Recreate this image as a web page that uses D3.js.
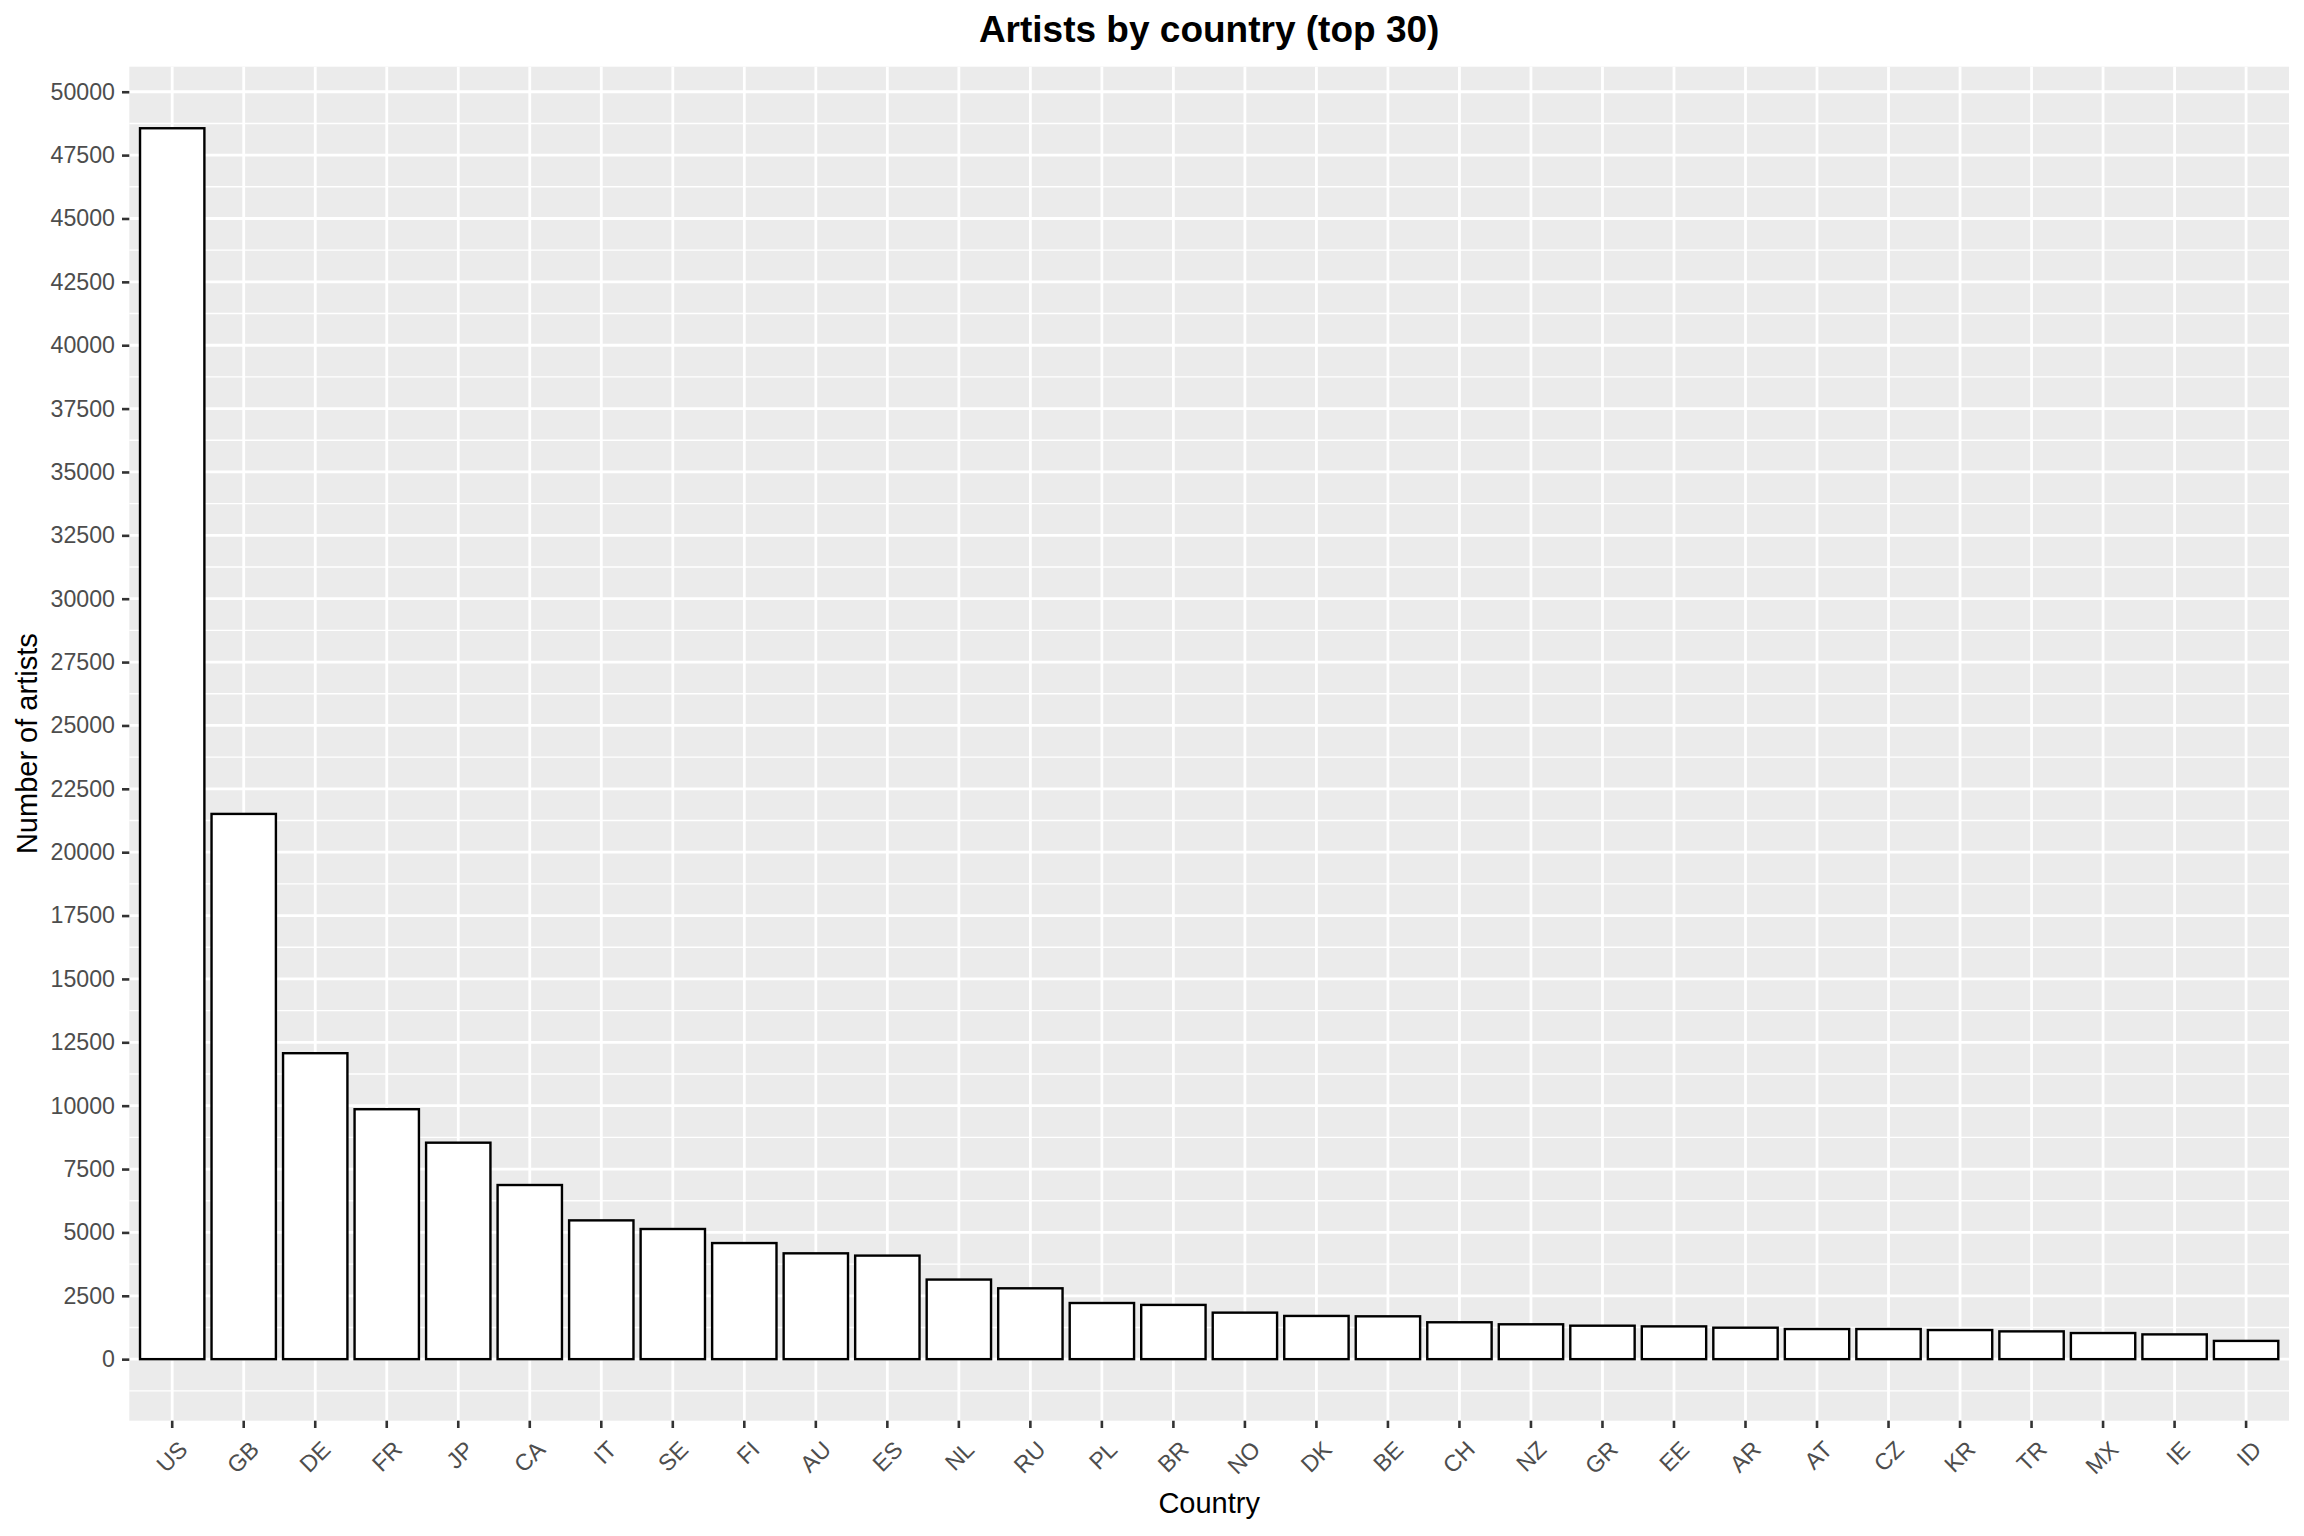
<!DOCTYPE html>
<html>
<head>
<meta charset="utf-8">
<script src="https://cdn.jsdelivr.net/npm/d3@7/dist/d3.min.js"></script>
<style>
body { margin: 0; background: #ffffff; }
text { font-family: "Liberation Sans", Arial, Helvetica, sans-serif; }
</style>
</head>
<body>
<script>
// data
var countries = ["US", "GB", "DE", "FR", "JP", "CA", "IT", "SE", "FI", "AU",
                 "ES", "NL", "RU", "PL", "BR", "NO", "DK", "BE", "CH", "NZ",
                 "GR", "EE", "AR", "AT", "CZ", "KR", "TR", "MX", "IE", "ID"];
var artistCounts = [48560, 21510, 12070, 9860, 8540, 6870, 5475, 5135, 4580, 4175,
                    4085, 3140, 2795, 2215, 2140, 1835, 1705, 1690, 1455, 1375,
                    1320, 1293, 1241, 1188, 1188, 1148, 1096, 1030, 977, 720];
var yTickLabels = [0, 2500, 5000, 7500, 10000, 12500, 15000, 17500, 20000, 22500,
                   25000, 27500, 30000, 32500, 35000, 37500, 40000, 42500, 45000,
                   47500, 50000];

var width = 2304, height = 1536;
var pLeft = 129.3, pRight = 2289, pTop = 66.7, pBottom = 1420.7;

var svg = d3.select("body")
  .append("svg")
  .attr("width", width)
  .attr("height", height);

var maxVal = d3.max(artistCounts);

// ggplot style 5% expansion on the continuous axis
var y = d3.scaleLinear()
  .domain([-0.05 * maxVal, 1.05 * maxVal])
  .range([pBottom, pTop]);

// discrete axis: 0.6 units added each side, bars 0.9 wide
var x = d3.scaleBand()
  .domain(countries)
  .range([pLeft, pRight])
  .paddingInner(0.1)
  .paddingOuter(0.15);

svg.append("rect")
  .attr("x", pLeft)
  .attr("y", pTop)
  .attr("width", pRight - pLeft)
  .attr("height", pBottom - pTop)
  .attr("fill", "#EBEBEB");

var step = yTickLabels[1] - yTickLabels[0];
var minor = yTickLabels.map(function(b) { return b - step / 2; })
  .concat([yTickLabels[yTickLabels.length - 1] + step / 2])
  .filter(function(v) { return v > y.domain()[0] && v < y.domain()[1]; });

var grid = svg.append("g");

grid.selectAll(".minor")
  .data(minor)
  .enter().append("line")
  .attr("x1", pLeft).attr("x2", pRight)
  .attr("y1", function(d) { return y(d); })
  .attr("y2", function(d) { return y(d); })
  .attr("stroke", "#ffffff")
  .attr("stroke-width", 1.4);

grid.selectAll(".majorY")
  .data(yTickLabels)
  .enter().append("line")
  .attr("x1", pLeft).attr("x2", pRight)
  .attr("y1", function(d) { return y(d); })
  .attr("y2", function(d) { return y(d); })
  .attr("stroke", "#ffffff")
  .attr("stroke-width", 2.8);

grid.selectAll(".majorX")
  .data(countries)
  .enter().append("line")
  .attr("y1", pTop).attr("y2", pBottom)
  .attr("x1", function(d) { return x(d) + x.bandwidth() / 2; })
  .attr("x2", function(d) { return x(d) + x.bandwidth() / 2; })
  .attr("stroke", "#ffffff")
  .attr("stroke-width", 2.8);

// bars
svg.append("g")
  .selectAll("rect")
  .data(countries)
  .enter().append("rect")
  .attr("x", function(d) { return x(d); })
  .attr("width", x.bandwidth())
  .attr("y", function(d, i) { return y(artistCounts[i]); })
  .attr("height", function(d, i) { return y(0) - y(artistCounts[i]); })
  .attr("fill", "#ffffff")
  .attr("stroke", "#000000")
  .attr("stroke-width", 2.4);

// y axis
var yAxis = svg.append("g")
  .attr("transform", "translate(" + pLeft + ",0)")
  .call(d3.axisLeft(y).tickValues(yTickLabels).tickSize(7.3).tickPadding(7).tickFormat(d3.format("d")));
yAxis.select(".domain").remove();
yAxis.selectAll(".tick line").attr("stroke", "#333333").attr("stroke-width", 2.6);
yAxis.selectAll(".tick text")
  .attr("fill", "#4D4D4D")
  .attr("font-size", "23.2px")
  .attr("font-family", "Liberation Sans, Arial, sans-serif");

// x axis, labels turned 45 degrees
var xAxis = svg.append("g")
  .attr("transform", "translate(0," + pBottom + ")")
  .call(d3.axisBottom(x).tickSize(7.3).tickSizeOuter(0));
xAxis.select(".domain").remove();
xAxis.selectAll(".tick line").attr("stroke", "#333333").attr("stroke-width", 2.6);
xAxis.selectAll(".tick text")
  .attr("fill", "#4D4D4D")
  .attr("font-size", "23.2px")
  .attr("font-family", "Liberation Sans, Arial, sans-serif")
  .attr("text-anchor", "end")
  .attr("x", 0)
  .attr("y", 0)
  .attr("dy", "0.72em")
  .attr("transform", "translate(5,18.5) rotate(-45)");

// titles
svg.append("text")
  .attr("x", (pLeft + pRight) / 2)
  .attr("y", 41.7)
  .attr("text-anchor", "middle")
  .attr("font-size", "37px")
  .attr("font-weight", "bold")
  .attr("fill", "#000000")
  .text("Artists by country (top 30)");

svg.append("text")
  .attr("x", (pLeft + pRight) / 2)
  .attr("y", 1513)
  .attr("text-anchor", "middle")
  .attr("font-size", "29px")
  .attr("fill", "#000000")
  .text("Country");

svg.append("text")
  .attr("transform", "translate(37," + (pTop + pBottom) / 2 + ") rotate(-90)")
  .attr("text-anchor", "middle")
  .attr("font-size", "29px")
  .attr("fill", "#000000")
  .text("Number of artists");
</script>
</body>
</html>
